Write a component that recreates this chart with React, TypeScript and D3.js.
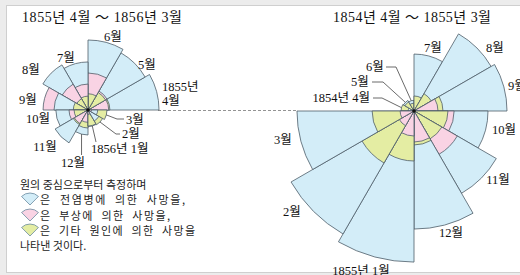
import * as d3 from "d3";

const leftMonths = ["4월", "5월", "6월", "7월", "8월", "9월", "10월", "11월", "12월", "1월", "2월", "3월"];
const leftDisease = [210, 181, 204, 96, 113, 48, 43, 60, 26, 11.4, 6.6, 3.9];
const leftWounds = [17.9, 20, 57, 28, 37, 84, 15, 10.3, 6.3, 0.8, 0, 0.5];
const leftOther = [20, 17, 11, 8, 7, 9, 8, 12, 13.5, 10.7, 12, 15];

// 1854.4 ~ 1855.3 (right rose)
const rightMonths = ["4월", "5월", "6월", "7월", "8월", "9월", "10월", "11월", "12월", "1월", "2월", "3월"];
const rightDisease = [1.4, 6.2, 4.7, 135, 330, 360, 228, 376, 580, 950, 839, 570];
const rightWounds = [0, 0, 0, 0, 0.4, 24, 67, 104, 40, 26, 12, 8];
const rightOther = [7.0, 4.6, 2.5, 9.4, 16.6, 35, 48, 43, 48, 104, 150, 73];

const leftTitle = "1855년 4월 ～ 1856년 3월";
const rightTitle = "1854년 4월 ～ 1855년 3월";
const legendLines = [
  "원의 중심으로부터 측정하며",
  "은  전염병에  의한  사망을,",
  "은  부상에  의한  사망을,",
  "은  기타  원인에  의한  사망을",
  "나타낸 것이다.",
];

const colors = { disease: "#d3edf8", wounds: "#f9d3e4", other: "#e4eda3" };
const edge = "#4e5d68";
const serif = "'Liberation Serif', 'Noto Sans CJK KR', serif";
const sans = "'Noto Sans CJK KR', 'Noto Sans', sans-serif";

const rScale = d3.scaleSqrt().domain([0, 1000]).range([0, 155]);
const arc = d3.arc<any>();
const step = Math.PI / 6;

function polar(cx, cy, a, r) {
  return [cx + r * Math.sin(a), cy - r * Math.cos(a)];
}

function Rose({ cx, cy, disease, wounds, other, start, dir }) {
  const paths = [];
  disease.forEach((_, i) => {
    const a0 = start + dir * i * step;
    const a1 = start + dir * (i + 1) * step;
    const layers = [
      { key: "disease", v: disease[i] },
      { key: "wounds", v: wounds[i] },
      { key: "other", v: other[i] },
    ]
      .filter((l) => l.v > 0)
      .sort((a, b) => b.v - a.v);
    layers.forEach((l) => {
      paths.push(
        <path
          key={i + l.key}
          d={arc({ innerRadius: 0, outerRadius: rScale(l.v), startAngle: Math.min(a0, a1), endAngle: Math.max(a0, a1) })}
          transform={`translate(${cx},${cy})`}
          fill={colors[l.key]}
          stroke={edge}
          strokeWidth={0.8}
        />
      );
    });
  });
  return (
    <g>
      {paths}
      <circle cx={cx} cy={cy} r={1.8} fill="#111" />
    </g>
  );
}

// tip of a month wedge (outermost layer), used for leader lines
function tip(cx, cy, start, dir, i, d, w, o) {
  const a = start + dir * (i + 0.5) * step;
  return polar(cx, cy, a, rScale(Math.max(d[i], w[i], o[i])));
}

export default function App() {
  const L = { cx: 88, cy: 110, start: Math.PI / 2, dir: -1 };
  const R = { cx: 414, cy: 111, start: -Math.PI / 2, dir: 1 };

  const lt = (i) => tip(L.cx, L.cy, L.start, L.dir, i, leftDisease, leftWounds, leftOther);
  const rt = (i) => tip(R.cx, R.cy, R.start, R.dir, i, rightDisease, rightWounds, rightOther);

  const leftLabels = [
    { t: leftMonths[2], x: 113, y: 37, a: "middle" },
    { t: leftMonths[1], x: 147, y: 65, a: "middle" },
    { t: "1855년", x: 162, y: 87, a: "start" },
    { t: leftMonths[0], x: 162, y: 101, a: "start" },
    { t: leftMonths[3], x: 66, y: 58, a: "middle" },
    { t: leftMonths[4], x: 31, y: 70, a: "middle" },
    { t: leftMonths[5], x: 28, y: 100, a: "middle" },
    { t: leftMonths[6], x: 38, y: 119, a: "middle" },
    { t: leftMonths[7], x: 45, y: 147, a: "middle" },
    { t: leftMonths[8], x: 73, y: 163, a: "middle" },
    { t: leftMonths[11], x: 126, y: 120, a: "start" },
    { t: leftMonths[10], x: 122, y: 134, a: "start" },
    { t: "1856년 " + leftMonths[9], x: 91, y: 149, a: "start" },
  ];
  const rightLabels = [
    { t: rightMonths[3], x: 433, y: 48, a: "middle" },
    { t: rightMonths[4], x: 495, y: 48, a: "middle" },
    { t: rightMonths[5], x: 508, y: 86, a: "start" },
    { t: rightMonths[6], x: 504, y: 130, a: "middle" },
    { t: rightMonths[7], x: 498, y: 180, a: "middle" },
    { t: rightMonths[8], x: 451, y: 233, a: "middle" },
    { t: "1855년 " + rightMonths[9], x: 361, y: 271, a: "middle" },
    { t: rightMonths[10], x: 292, y: 212, a: "middle" },
    { t: rightMonths[11], x: 283, y: 140, a: "middle" },
    { t: rightMonths[2], x: 375, y: 67, a: "middle" },
    { t: rightMonths[1], x: 360, y: 82, a: "middle" },
    { t: "1854년 " + rightMonths[0], x: 370, y: 98, a: "end" },
  ];

  const leaders = [
    [lt(11), [117, 119], [124, 119]],
    [lt(10), [116, 134], [120, 134]],
    [lt(9), [96, 142]],
    [lt(8), [lt(8)[0], 155]],
    [rt(2), [396, 67], [386, 67]],
    [rt(1), [383, 82], [372, 82]],
    [rt(0), [382, 98], [373, 98]],
  ];

  const icon = d3.arc<any>()({ innerRadius: 0, outerRadius: 12, startAngle: -0.78, endAngle: 0.78 });
  const iconKeys = ["disease", "wounds", "other"];
  const legendY = [189, 204, 220, 235, 250];
  const legendW = [null, 145, 130, 155, null];

  return (
    <svg
      width={520}
      height={275}
      style={{ position: "absolute", left: 0, top: 0, background: "#ececec" }}
    >
      <rect x={6.5} y={5.5} width={520} height={267} fill="#fff" stroke="#cfcfcf" />

      <line x1={158} x2={297} y1={110.5} y2={110.5} stroke="#777" strokeWidth={0.8} strokeDasharray="3,2" />

      <Rose cx={L.cx} cy={L.cy} disease={leftDisease} wounds={leftWounds} other={leftOther} start={L.start} dir={L.dir} />
      <Rose cx={R.cx} cy={R.cy} disease={rightDisease} wounds={rightWounds} other={rightOther} start={R.start} dir={R.dir} />

      {leaders.map((pts, i) => (
        <polyline key={i} points={pts.map((p) => p.join(",")).join(" ")} fill="none" stroke="#444" strokeWidth={0.8} />
      ))}

      <g fontFamily={serif} fontSize={14} fill="#111">
        <text x={22} y={22} textLength={160} lengthAdjust="spacing" style={{ whiteSpace: "pre" }}>{leftTitle}</text>
        <text x={333} y={22} textLength={158} lengthAdjust="spacing" style={{ whiteSpace: "pre" }}>{rightTitle}</text>
      </g>

      <g fontFamily={serif} fontSize={12.5} fill="#111">
        {leftLabels.concat(rightLabels).map((l, i) => (
          <text key={i} x={l.x} y={l.y} dy="0.35em" textAnchor={l.a}>
            {l.t}
          </text>
        ))}
      </g>

      <g fontFamily={sans} fontSize={11} fill="#222">
        {legendLines.map((t, i) => (
          <text
            key={i}
            x={i >= 1 && i <= 3 ? 40 : 20}
            y={legendY[i]}
            textLength={legendW[i] ?? undefined}
            lengthAdjust={legendW[i] ? "spacing" : undefined}
            style={{ whiteSpace: "pre" }}
          >
            {t}
          </text>
        ))}
        {iconKeys.map((k, i) => (
          <path
            key={k}
            d={icon}
            transform={`translate(30,${legendY[i + 1] + 1})`}
            fill={colors[k]}
            stroke="#6a8aa0"
            strokeWidth={0.8}
          />
        ))}
      </g>
    </svg>
  );
}
